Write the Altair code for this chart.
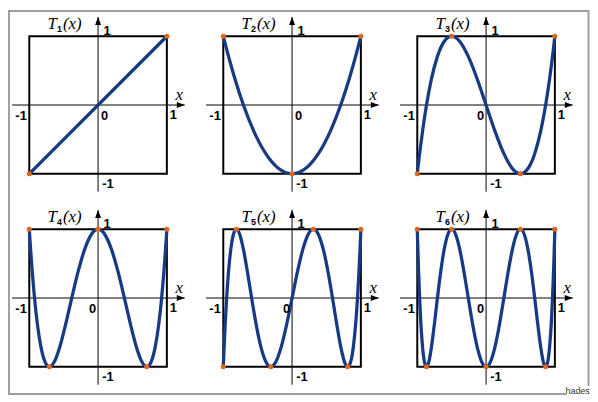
import altair as alt
import pandas as pd

# ---- curve samples (x, T_n(x)) ----
T1_X = [1, -1]
T1_Y = [1, -1]

T2_X = [1, 0.98079, 0.92388, 0.83147, 0.70711, 0.55557, 0.38268, 0.19509, 0,
        -0.19509, -0.38268, -0.55557, -0.70711, -0.83147, -0.92388, -0.98079, -1]
T2_Y = [1, 0.9239, 0.7071, 0.3827, 0, -0.3827, -0.7071, -0.9239, -1,
        -0.9239, -0.7071, -0.3827, 0, 0.3827, 0.7071, 0.9239, 1]

T3_X = [1, 0.99144, 0.96593, 0.92388, 0.86603, 0.79335, 0.70711, 0.60876, 0.5,
        0.38268, 0.25882, 0.13053, 0,
        -0.13053, -0.25882, -0.38268, -0.5, -0.60876, -0.70711, -0.79335, -0.86603,
        -0.92388, -0.96593, -0.99144, -1]
T3_Y = [1, 0.9239, 0.7071, 0.3827, 0, -0.3827, -0.7071, -0.9239, -1,
        -0.9239, -0.7071, -0.3827, 0, 0.3827, 0.7071, 0.9239, 1,
        0.9239, 0.7071, 0.3827, 0, -0.3827, -0.7071, -0.9239, -1]

T4_X = [1, 0.99518, 0.98079, 0.95694, 0.92388, 0.88192, 0.83147, 0.77301, 0.70711,
        0.63439, 0.55557, 0.47140, 0.38268, 0.29028, 0.19509, 0.09802, 0,
        -0.09802, -0.19509, -0.29028, -0.38268, -0.47140, -0.55557, -0.63439, -0.70711,
        -0.77301, -0.83147, -0.88192, -0.92388, -0.95694, -0.98079, -0.99518, -1]
T4_Y = [1, 0.9239, 0.7071, 0.3827, 0, -0.3827, -0.7071, -0.9239, -1,
        -0.9239, -0.7071, -0.3827, 0, 0.3827, 0.7071, 0.9239, 1,
        0.9239, 0.7071, 0.3827, 0, -0.3827, -0.7071, -0.9239, -1,
        -0.9239, -0.7071, -0.3827, 0, 0.3827, 0.7071, 0.9239, 1]

T5_X = [1, 0.99692, 0.98769, 0.97237, 0.95106, 0.92388, 0.89101, 0.85264, 0.80902,
        0.76041, 0.70711, 0.64945, 0.58779, 0.52250, 0.45399, 0.38268, 0.30902,
        0.23345, 0.15643, 0.07846, 0,
        -0.07846, -0.15643, -0.23345, -0.30902, -0.38268, -0.45399, -0.52250, -0.58779,
        -0.64945, -0.70711, -0.76041, -0.80902, -0.85264, -0.89101, -0.92388, -0.95106,
        -0.97237, -0.98769, -0.99692, -1]
T5_Y = [1, 0.9239, 0.7071, 0.3827, 0, -0.3827, -0.7071, -0.9239, -1,
        -0.9239, -0.7071, -0.3827, 0, 0.3827, 0.7071, 0.9239, 1,
        0.9239, 0.7071, 0.3827, 0, -0.3827, -0.7071, -0.9239, -1,
        -0.9239, -0.7071, -0.3827, 0, 0.3827, 0.7071, 0.9239, 1,
        0.9239, 0.7071, 0.3827, 0, -0.3827, -0.7071, -0.9239, -1]

T6_X = [1, 0.99786, 0.99144, 0.98079, 0.96593, 0.94693, 0.92388, 0.89687, 0.86603,
        0.83147, 0.79335, 0.75184, 0.70711, 0.65935, 0.60876, 0.55557, 0.5,
        0.44229, 0.38268, 0.32144, 0.25882, 0.19509, 0.13053, 0.06540, 0,
        -0.06540, -0.13053, -0.19509, -0.25882, -0.32144, -0.38268, -0.44229, -0.5,
        -0.55557, -0.60876, -0.65935, -0.70711, -0.75184, -0.79335, -0.83147, -0.86603,
        -0.89687, -0.92388, -0.94693, -0.96593, -0.98079, -0.99144, -0.99786, -1]
T6_Y = [1, 0.9239, 0.7071, 0.3827, 0, -0.3827, -0.7071, -0.9239, -1,
        -0.9239, -0.7071, -0.3827, 0, 0.3827, 0.7071, 0.9239, 1,
        0.9239, 0.7071, 0.3827, 0, -0.3827, -0.7071, -0.9239, -1,
        -0.9239, -0.7071, -0.3827, 0, 0.3827, 0.7071, 0.9239, 1,
        0.9239, 0.7071, 0.3827, 0, -0.3827, -0.7071, -0.9239, -1,
        -0.9239, -0.7071, -0.3827, 0, 0.3827, 0.7071, 0.9239, 1]

CURVES = [(T1_X, T1_Y), (T2_X, T2_Y), (T3_X, T3_Y),
          (T4_X, T4_Y), (T5_X, T5_Y), (T6_X, T6_Y)]
SUBSCRIPTS = ["1", "2", "3", "4", "5", "6"]
ZERO_LEFT = [False, False, True, True, True, True]

BOX = [-1, 1]
X_AXIS = [-1.25, 1.26]
Y_AXIS = [-1.26, 1.28]
TICK_TEXT = ["-1", "0", "1"]
SIGNATURE = "hades"

# ---- styles ----
NAVY = "#173a85"
ORANGE = "#e0661a"
FRAME = "#a0a0a0"
SANS = "Liberation Sans"
SERIF = "Liberation Serif"
DOM = [-1.295, 1.295]
SIZE = 180

SX = alt.Scale(domain=DOM, nice=False, zero=False)
SY = alt.Scale(domain=DOM, nice=False, zero=False)

ARROW_RIGHT = "M0,0 L-2,-0.75 L-2,0.75 Z"
ARROW_UP = "M0,0 L-0.75,2 L0.75,2 Z"


def text_at(x, y, label, **kw):
    return alt.Chart(pd.DataFrame({"x": [x], "y": [y], "t": [label]})).mark_text(**kw).encode(
        x=alt.X("x:Q", scale=SX, axis=None),
        y=alt.Y("y:Q", scale=SY, axis=None),
        text="t:N",
    )


def panel(i, with_frame=False):
    xs, ys = CURVES[i]
    df = pd.DataFrame({"x": xs, "y": ys})
    layers = []

    if with_frame:
        one = pd.DataFrame({"a": [0]})
        layers.append(alt.Chart(one).mark_rect(fillOpacity=0, stroke=FRAME, strokeWidth=2).encode(
            x=alt.value(0), x2=alt.value(585.5), y=alt.value(-5), y2=alt.value(382)))
        layers.append(alt.Chart(one).mark_rect(color="white").encode(
            x=alt.value(563), x2=alt.value(587), y=alt.value(374), y2=alt.value(386)))
        layers.append(alt.Chart(one.assign(t=SIGNATURE)).mark_text(
            font=SANS, fontSize=9, color="#333", align="center", baseline="alphabetic").encode(
            x=alt.value(574.5), y=alt.value(382), text="t:N"))

    box = alt.Chart(pd.DataFrame({"lo": [BOX[0]], "hi": [BOX[1]]})).mark_rect(
        fillOpacity=0, stroke="#000", strokeWidth=2).encode(
        x=alt.X("lo:Q", scale=SX, axis=None), x2="hi:Q",
        y=alt.Y("lo:Q", scale=SY, axis=None), y2="hi:Q")
    layers.append(box)

    ax = pd.DataFrame({"lo": [X_AXIS[0]], "hi": [X_AXIS[1]], "z": [0]})
    layers.append(alt.Chart(ax).mark_rule(color="#000", strokeWidth=1).encode(
        x=alt.X("lo:Q", scale=SX, axis=None), x2="hi:Q",
        y=alt.Y("z:Q", scale=SY, axis=None)))
    ay = pd.DataFrame({"lo": [Y_AXIS[0]], "hi": [Y_AXIS[1]], "z": [0]})
    layers.append(alt.Chart(ay).mark_rule(color="#000", strokeWidth=1).encode(
        y=alt.Y("lo:Q", scale=SY, axis=None), y2="hi:Q",
        x=alt.X("z:Q", scale=SX, axis=None)))
    layers.append(alt.Chart(pd.DataFrame({"x": [X_AXIS[1]], "y": [0]})).mark_point(
        shape=ARROW_RIGHT, filled=True, size=64, color="#000", opacity=1).encode(
        x=alt.X("x:Q", scale=SX, axis=None), y=alt.Y("y:Q", scale=SY, axis=None)))
    layers.append(alt.Chart(pd.DataFrame({"x": [0], "y": [Y_AXIS[1]]})).mark_point(
        shape=ARROW_UP, filled=True, size=64, color="#000", opacity=1).encode(
        x=alt.X("x:Q", scale=SX, axis=None), y=alt.Y("y:Q", scale=SY, axis=None)))

    layers.append(alt.Chart(df).mark_line(
        color=NAVY, strokeWidth=3.3, strokeJoin="round", strokeCap="round",
        interpolate="monotone").encode(
        x=alt.X("x:Q", scale=SX, axis=None), y=alt.Y("y:Q", scale=SY, axis=None)))
    layers.append(alt.Chart(df).transform_filter("abs(datum.y) == 1").mark_circle(
        color=ORANGE, size=26, opacity=1).encode(
        x=alt.X("x:Q", scale=SX, axis=None), y=alt.Y("y:Q", scale=SY, axis=None)))

    lab = dict(font=SANS, fontWeight="bold", fontSize=13, color="#000")
    layers.append(text_at(BOX[0], 0, TICK_TEXT[0], align="right", baseline="middle", dx=-2.5, dy=11, **lab))
    layers.append(text_at(0, 0, TICK_TEXT[1], align="center", baseline="middle",
                          dx=(-5.5 if ZERO_LEFT[i] else 6.5), dy=11.5, **lab))
    layers.append(text_at(BOX[1], 0, TICK_TEXT[2], align="center", baseline="middle", dx=6.5, dy=10.5, **lab))
    layers.append(text_at(0, BOX[0], TICK_TEXT[0], align="center", baseline="middle", dx=10, dy=10, **lab))
    layers.append(text_at(0, BOX[1], TICK_TEXT[2], align="center", baseline="middle", dx=9, dy=-5.5, **lab))

    ital = dict(font=SERIF, fontStyle="italic", fontSize=17, color="#000")
    layers.append(text_at(X_AXIS[1], 0, "x", align="center", baseline="middle", dx=-5.5, dy=-10, **ital))
    layers.append(text_at(BOX[0], BOX[1], "T", align="left", baseline="alphabetic", dx=18.5, dy=-7, **ital))
    layers.append(text_at(BOX[0], BOX[1], SUBSCRIPTS[i], align="left", baseline="alphabetic",
                          dx=28, dy=-4.5, font=SANS, fontWeight="bold", fontSize=9, color="#000"))
    layers.append(text_at(BOX[0], BOX[1], "(x)", align="left", baseline="alphabetic", dx=34, dy=-7, **ital))

    return alt.layer(*layers).properties(width=SIZE, height=SIZE)


chart = alt.concat(
    panel(0, with_frame=True), panel(1), panel(2), panel(3), panel(4), panel(5),
    columns=3, spacing={"row": 15, "column": 16}, bounds="flush",
).properties(padding=0, background="white").configure_view(strokeWidth=0)

chart.save("out.html", embed_options={"renderer": "svg", "actions": False})
